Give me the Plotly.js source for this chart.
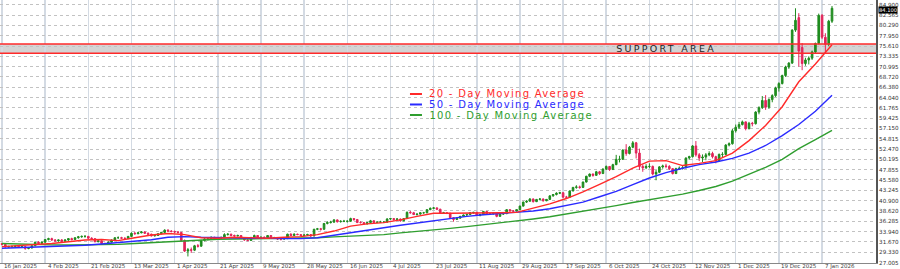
<!DOCTYPE html>
<html><head><meta charset="utf-8">
<script src="https://cdn.plot.ly/plotly-3.0.1.min.js"></script>
<style>
html,body{margin:0;padding:0;background:#fff;}
#chart{width:900px;height:269px;}
g.annotation[data-index="0"] text{letter-spacing:2.3px;}
g.annotation[data-index="1"] text,g.annotation[data-index="2"] text,g.annotation[data-index="3"] text{letter-spacing:1.3px;}
</style>
</head><body><div id="chart"></div>
<script>
// ---- data ----
const xTickLabels = ["16 Jan 2025","4 Feb 2025","21 Feb 2025","13 Mar 2025","1 Apr 2025","21 Apr 2025","9 May 2025","28 May 2025","16 Jun 2025","4 Jul 2025","23 Jul 2025","11 Aug 2025","29 Aug 2025","17 Sep 2025","6 Oct 2025","24 Oct 2025","12 Nov 2025","1 Dec 2025","19 Dec 2025","7 Jan 2026"];
const yTickValues = [27.005,29.330,31.670,33.940,36.285,38.620,40.900,43.245,45.580,47.855,50.195,52.470,54.815,57.150,59.425,61.765,64.040,66.380,68.720,70.995,73.335,75.610,77.950,80.290,82.565,84.900];

const open = [31.3,31.1,30.5,30.6,30.6,30.7,30.4,30.6,30.2,30.3,
30.8,31.6,31.3,31.6,32.2,32.4,32.1,31.9,32.1,31.8,
32.1,32.4,32.2,32.6,32.8,32.9,32.9,32.5,32.4,31.7,
31.9,31.3,31.2,31.6,32.1,32.6,32.6,32.5,32.4,32.9,
33.6,33.5,33.7,33.9,33.6,33.4,33.0,33.1,33.5,33.8,
34.3,34.1,34.0,33.9,33.8,32.0,29.6,29.9,29.8,30.8,
30.7,32.0,32.3,32.3,32.7,32.4,32.5,32.6,33.3,33.4,
33.1,33.0,33.1,32.6,32.1,32.0,32.6,33.1,32.6,32.7,
32.6,33.1,32.5,32.6,32.3,32.3,32.4,33.4,33.1,33.4,
33.3,33.1,33.2,33.3,33.0,34.5,34.6,34.5,35.8,36.0,
36.1,36.6,36.2,36.3,36.3,36.3,36.9,36.7,36.0,36.0,
35.7,36.0,36.4,36.0,36.1,36.1,36.1,36.8,36.9,36.7,
36.8,36.4,36.9,38.3,38.2,37.8,37.9,38.2,38.2,38.9,
39.2,39.3,39.0,38.1,38.2,38.1,37.1,36.7,37.0,37.4,
37.7,37.8,38.2,38.3,37.6,37.8,38.5,38.0,38.0,38.1,
37.4,37.9,38.0,38.9,38.6,38.6,38.9,39.7,40.6,40.8,
41.3,40.7,41.2,41.3,40.9,41.2,42.0,42.3,42.6,42.7,
41.7,41.7,43.1,43.9,44.0,43.9,45.1,46.4,46.9,46.6,
47.4,47.0,48.0,48.6,47.9,49.0,50.2,50.2,52.3,51.5,
52.9,53.9,51.6,48.6,48.3,48.6,48.6,46.9,47.3,48.5,
48.7,48.6,48.1,47.0,48.1,48.2,48.3,50.5,50.8,53.2,
51.2,50.5,50.7,51.2,51.5,50.8,49.9,51.3,51.3,53.4,
53.7,56.6,57.4,58.0,58.6,57.1,58.3,58.2,60.8,61.8,
63.4,61.9,63.6,64.5,66.2,67.2,69.0,70.9,71.8,79.2,
82.0,75.3,71.7,72.5,72.9,74.3,76.2,82.5,77.6,76.0,81.2];

const high = [31.4,31.2,30.8,30.9,30.9,30.8,30.8,30.7,30.5,31.0,
31.7,31.8,31.8,32.3,32.6,32.6,32.3,32.2,32.3,32.3,
32.5,32.6,32.7,33.0,33.1,33.2,33.0,32.7,32.5,32.1,
32.0,31.5,31.8,32.2,32.7,32.9,32.8,32.7,33.0,33.8,
33.9,33.9,34.1,34.0,33.8,33.5,33.3,33.6,33.9,34.5,
34.5,34.3,34.2,34.1,33.9,32.2,30.3,30.4,31.0,31.2,
32.1,32.5,32.6,32.9,32.8,32.7,32.9,33.6,33.6,33.5,
33.3,33.3,33.2,32.7,32.3,32.8,33.3,33.2,32.9,32.9,
33.2,33.2,32.8,32.7,32.5,32.6,33.5,33.6,33.6,33.5,
33.4,33.4,33.5,33.4,34.6,34.8,34.8,35.9,36.3,36.4,
36.8,36.7,36.5,36.6,36.5,37.1,37.0,36.8,36.3,36.1,
36.1,36.6,36.5,36.3,36.4,36.3,37.0,37.0,37.0,37.0,
36.9,37.0,38.5,38.6,38.4,38.1,38.3,38.4,39.0,39.4,
39.5,39.4,39.1,38.4,38.3,38.2,37.2,37.2,37.5,37.8,
38.0,38.3,38.4,38.4,37.9,38.6,38.6,38.2,38.2,38.1,
38.0,38.1,39.0,39.0,38.8,39.0,39.8,40.7,41.0,41.5,
41.4,41.3,41.5,41.4,41.3,42.1,42.4,42.8,42.9,42.8,
42.0,43.2,44.0,44.4,44.3,45.2,46.5,47.0,47.0,47.6,
47.6,48.2,48.8,48.7,49.2,51.2,51.0,52.4,53.6,53.2,
54.3,54.1,52.6,49.0,49.1,49.3,48.8,47.8,48.7,49.0,
49.2,48.9,48.2,48.3,48.6,48.7,50.6,51.0,53.4,54.3,
51.6,51.3,51.6,52.0,51.9,51.0,51.5,51.8,53.6,54.0,
57.0,58.0,58.6,58.9,58.7,58.6,58.6,61.0,62.1,64.4,
64.6,63.9,64.8,66.5,67.5,69.2,71.2,72.0,79.4,84.1,
83.0,76.3,73.0,73.3,74.6,76.4,82.9,82.8,78.5,81.5,84.6];

const low = [30.9,30.4,30.4,30.4,30.5,30.3,30.3,29.9,30.0,30.2,
30.7,31.1,31.0,31.5,32.0,31.9,31.7,31.7,31.6,31.7,
31.9,32.0,32.1,32.4,32.6,32.6,32.3,32.2,31.6,31.6,
31.1,31.0,31.1,31.5,32.0,32.4,32.3,32.2,32.3,32.8,
33.3,33.4,33.6,33.5,33.2,32.9,32.9,33.0,33.4,33.7,
33.9,33.8,33.6,33.5,31.8,29.4,28.4,29.2,29.6,30.4,
30.6,31.8,32.0,32.2,32.2,32.2,32.3,32.5,33.1,32.9,
32.8,32.9,32.5,31.9,31.8,31.9,32.5,32.5,32.4,32.4,
32.5,32.4,32.4,32.1,32.0,32.2,32.3,33.0,33.0,33.2,
32.9,33.0,33.0,32.8,32.9,34.3,34.2,34.4,35.6,35.8,
36.0,36.0,36.0,36.1,36.0,36.2,36.4,35.9,35.8,35.5,
35.6,35.9,35.9,35.9,35.9,35.9,36.0,36.6,36.4,36.6,
36.2,36.3,36.8,38.0,37.7,37.6,37.8,38.0,38.1,38.8,
39.0,38.8,38.0,38.0,37.9,37.0,36.2,36.6,36.9,37.3,
37.5,37.7,38.0,37.5,37.4,37.7,37.9,37.8,37.8,37.2,
37.3,37.7,37.9,38.5,38.4,38.5,38.8,39.6,40.4,40.7,
40.5,40.6,41.0,40.7,40.8,41.1,41.8,42.1,42.4,41.6,
41.5,41.6,43.0,43.6,43.6,43.8,45.0,46.2,46.3,46.5,
46.7,46.9,47.8,47.6,47.8,48.9,49.5,50.1,51.0,51.3,
52.7,50.4,47.8,47.4,48.0,48.2,46.6,45.5,47.1,48.1,
48.2,47.8,46.8,46.9,47.8,47.9,48.2,50.1,50.6,50.8,
49.8,49.6,50.0,50.9,50.4,49.3,49.7,50.7,51.1,53.1,
53.5,56.2,57.0,57.8,56.7,56.9,57.6,58.0,60.3,61.5,
61.3,61.5,63.0,64.2,65.4,67.0,68.7,70.5,71.6,78.8,
71.0,70.2,71.2,71.5,72.5,73.9,76.0,77.2,74.0,75.6,80.8];

const close = [31.1,30.5,30.6,30.6,30.7,30.4,30.6,30.2,30.3,30.8,
31.6,31.3,31.6,32.2,32.4,32.1,31.9,32.1,31.8,32.1,
32.4,32.2,32.6,32.8,32.9,32.9,32.5,32.4,31.7,31.9,
31.3,31.2,31.6,32.1,32.6,32.6,32.5,32.4,32.9,33.6,
33.5,33.7,33.9,33.6,33.4,33.0,33.1,33.5,33.8,34.3,
34.1,34.0,33.9,33.8,32.0,29.6,29.9,29.8,30.8,30.7,
32.0,32.3,32.3,32.7,32.4,32.5,32.6,33.3,33.4,33.1,
33.0,33.1,32.6,32.1,32.0,32.6,33.1,32.6,32.7,32.6,
33.1,32.5,32.6,32.3,32.3,32.4,33.4,33.1,33.4,33.3,
33.1,33.2,33.3,33.0,34.5,34.6,34.5,35.8,36.0,36.1,
36.6,36.2,36.3,36.3,36.3,36.9,36.7,36.0,36.0,35.7,
36.0,36.4,36.0,36.1,36.1,36.1,36.8,36.9,36.7,36.8,
36.4,36.9,38.3,38.2,37.8,37.9,38.2,38.2,38.9,39.2,
39.3,39.0,38.1,38.2,38.1,37.1,36.7,37.0,37.4,37.7,
37.8,38.2,38.3,37.6,37.8,38.5,38.0,38.0,38.1,37.4,
37.9,38.0,38.9,38.6,38.6,38.9,39.7,40.6,40.8,41.3,
40.7,41.2,41.3,40.9,41.2,42.0,42.3,42.6,42.7,41.7,
41.7,43.1,43.9,44.0,43.9,45.1,46.4,46.9,46.6,47.4,
47.0,48.0,48.6,47.9,49.0,50.2,50.2,52.3,51.5,52.9,
53.9,51.6,48.6,48.3,48.6,48.6,46.9,47.3,48.5,48.7,
48.6,48.1,47.0,48.1,48.2,48.3,50.5,50.8,53.2,51.2,
50.5,50.7,51.2,51.5,50.8,49.9,51.3,51.3,53.4,53.7,
56.6,57.4,58.0,58.6,57.1,58.3,58.2,60.8,61.8,63.4,
61.9,63.6,64.5,66.2,67.2,69.0,70.9,71.8,79.2,81.4,
74.5,71.7,72.5,72.9,74.3,76.2,82.5,77.6,76.0,81.2,84.1];

// moving averages read every 5 bars
const ma20 = [30.6,30.8,31.0,31.3,31.7,32.1,32.2,31.95,32.6,33.2,33.55,33.3,32.6,32.5,32.7,32.6,32.5,32.7,32.85,33.3,34.1,35.2,35.7,36.0,36.6,37.4,38.1,38.1,38.1,38.2,38.2,38.3,39.2,40.2,41.4,42.9,44.6,46.3,48.2,49.8,49.9,48.8,49.3,49.9,51.6,54.4,57.8,62.0,67.6,71.6,75.9];
const ma50 = [30.25,30.35,30.45,30.55,30.65,30.9,31.2,31.5,31.8,32.15,32.7,32.85,32.7,32.6,32.5,32.5,32.45,32.4,32.4,32.6,33.2,33.7,34.3,34.85,35.4,35.9,36.5,37.0,37.4,37.75,38.0,38.2,38.6,39.1,39.8,40.6,41.8,43.0,44.5,46.0,47.2,48.2,49.0,49.6,50.4,51.6,53.3,55.5,58.0,61.0,64.6];
const ma100 = [31.3,31.15,31.05,31.0,30.97,31.0,31.05,31.1,31.3,31.5,31.7,31.9,32.1,32.25,32.3,32.35,32.4,32.4,32.45,32.6,32.8,33.0,33.1,33.3,33.7,34.0,34.35,34.7,35.1,35.5,35.9,36.3,36.8,37.3,37.9,38.5,39.1,39.8,40.5,41.1,41.7,42.4,43.2,44.1,45.3,46.8,48.4,50.2,52.6,54.6,56.7];
const maNames = ["20 - Day Moving Average","50 - Day Moving Average","100 - Day Moving Average"];
const supportLow = 73.99, supportHigh = 76.08;
const supportLabel = "SUPPORT AREA";

// ---- derived positions ----
const maStep = 5, labelStep = 13;
const barX = close.map((_, i) => i);
const maX = ma20.map((_, k) => k * maStep);
const xTickVals = xTickLabels.map((_, k) => k * labelStep);

const RED = '#ff2a2a', BLUE = '#2a2aff', GREEN = '#2f9e2f';
const FONT = 'DejaVu Sans';

const traces = [
  {type:'candlestick', x:barX, open:open, high:high, low:low, close:close,
   increasing:{line:{color:'#1f8c1f', width:1}, fillcolor:'#1f8c1f'},
   decreasing:{line:{color:'#e2245a', width:1}, fillcolor:'#e2245a'},
   whiskerwidth:0, hoverinfo:'none', showlegend:false},
  {type:'scatter', mode:'lines', x:maX, y:ma100, line:{color:GREEN, width:1.4}, hoverinfo:'none', showlegend:false},
  {type:'scatter', mode:'lines', x:maX, y:ma50, line:{color:BLUE, width:1.4}, hoverinfo:'none', showlegend:false},
  {type:'scatter', mode:'lines', x:maX, y:ma20, line:{color:RED, width:1.4}, hoverinfo:'none', showlegend:false}
];

const legY = [0.6426, 0.6027, 0.5627];
const legCenter = [0.5782, 0.5782, 0.5828];
const legCol = [RED, BLUE, GREEN];

const shapes = [
  {type:'rect', xref:'paper', x0:0, x1:1, yref:'y', y0:supportLow, y1:supportHigh, fillcolor:'#d4d4d4', line:{width:0}, layer:'below'},
  {type:'line', xref:'paper', x0:0, x1:1, yref:'y', y0:supportHigh, y1:supportHigh, line:{color:RED, width:1.5}},
  {type:'line', xref:'paper', x0:0, x1:1, yref:'y', y0:supportLow, y1:supportLow, line:{color:RED, width:1.5}}
];
legY.forEach((y, i) => shapes.push({type:'line', xref:'paper', yref:'paper', x0:0.468, x1:0.4817, y0:y, y1:y, line:{color:legCol[i], width:2}}));

const annotations = [
  {xref:'paper', yref:'y', x:0.7614, y:(supportLow+supportHigh)/2, text:supportLabel, showarrow:false,
   xanchor:'center', yanchor:'middle', font:{family:FONT, size:9.5, color:'#262626'}}
];
maNames.forEach((t, i) => annotations.push({xref:'paper', yref:'paper', x:legCenter[i], y:legY[i], text:t, showarrow:false,
   xanchor:'center', yanchor:'middle', font:{family:FONT, size:10, color:legCol[i]}}));
annotations.push({xref:'paper', yref:'y', x:1, xshift:2, yshift:-1.5, y:close[close.length-1], text:close[close.length-1].toFixed(3),
   showarrow:false, xanchor:'left', yanchor:'middle', bgcolor:'#000', borderpad:0,
   font:{family:FONT, size:5.2, color:'#fff'}});
// date labels along the bottom, left-aligned at their grid line
xTickLabels.forEach((t, k) => annotations.push({xref:'x', yref:'paper', x:xTickVals[k], y:0, xshift:1.5, yshift:1,
   text:t, showarrow:false, xanchor:'left', yanchor:'top', borderpad:0,
   font:{family:FONT, size:5.5, color:'#444'}}));

const layout = {
  width:900, height:269,
  margin:{l:0, r:24, t:0, b:6, pad:0},
  paper_bgcolor:'#fff', plot_bgcolor:'#fff',
  showlegend:false,
  font:{family:FONT, size:6, color:'#444'},
  xaxis:{type:'linear', range:[-0.6, 263.25], rangeslider:{visible:false},
    tickmode:'array', tickvals:xTickVals, showticklabels:false,
    showgrid:true, gridcolor:'#d3dae3', gridwidth:1.5, zeroline:false,
    showline:true, linecolor:'#888', linewidth:1, ticks:'', fixedrange:true},
  yaxis:{side:'right', range:[26.93, 85.955], tickmode:'array', tickvals:yTickValues,
    ticktext:yTickValues.map(v => v.toFixed(3)),
    showgrid:true, gridcolor:'#c2c2c2', griddash:'dot', gridwidth:1, zeroline:false,
    showline:true, linecolor:'#555', linewidth:2, ticks:'', ticklabelstandoff:0,
    tickfont:{family:FONT, size:5.6, color:'#333'}, fixedrange:true},
  shapes:shapes, annotations:annotations
};

Plotly.newPlot('chart', traces, layout, {staticPlot:true, displayModeBar:false});
</script>
</body></html>
